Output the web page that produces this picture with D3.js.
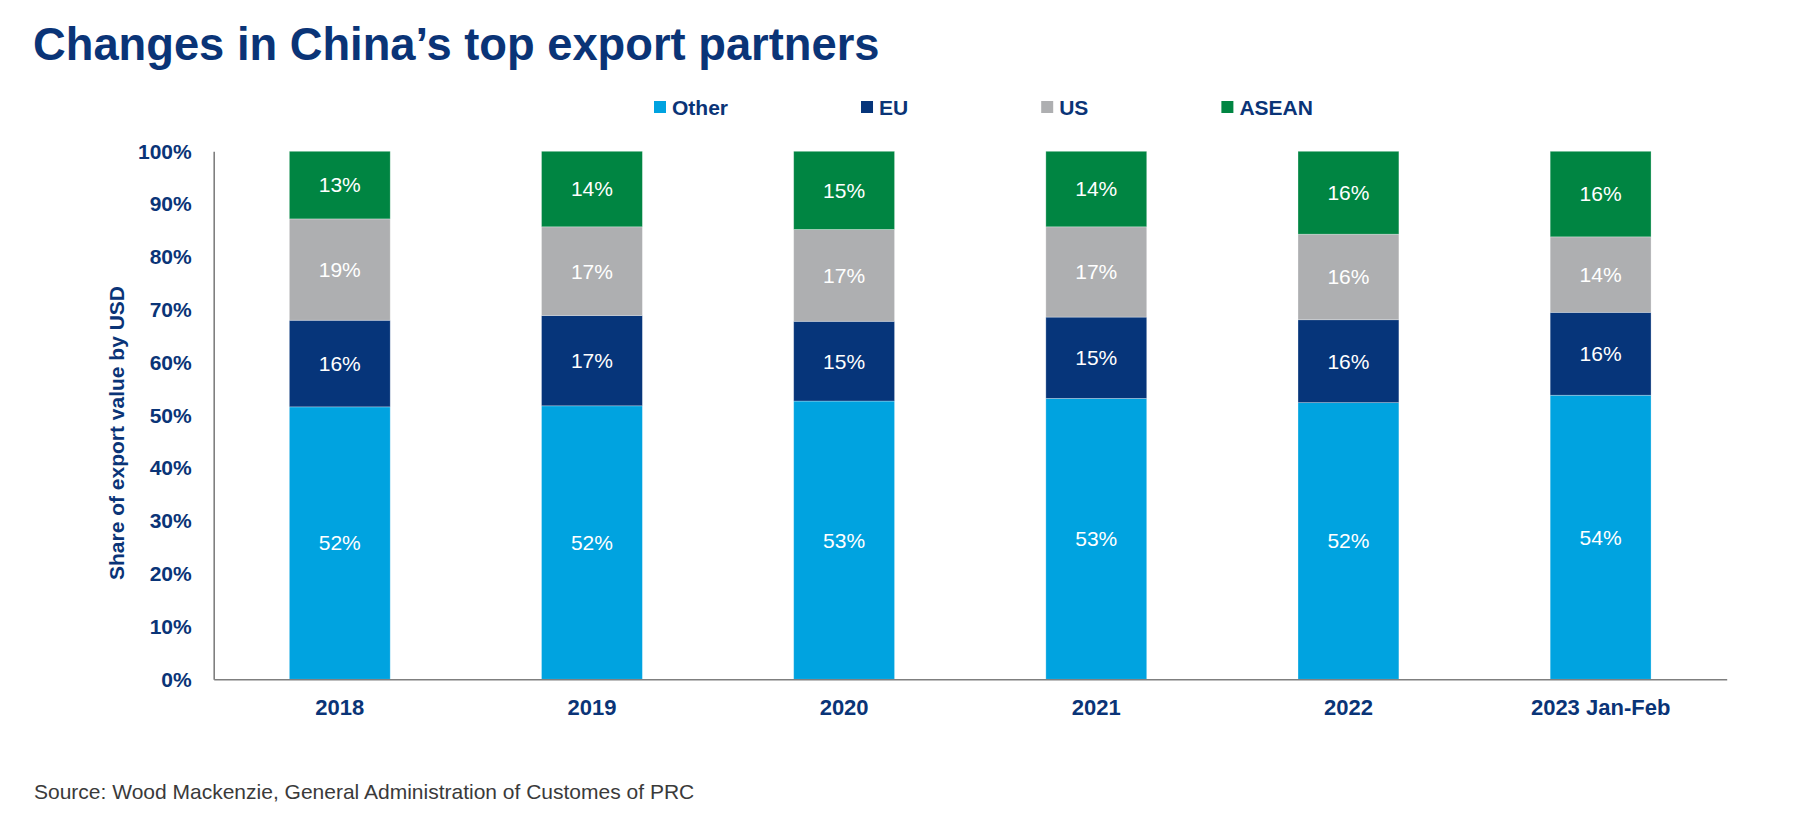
<!DOCTYPE html>
<html>
<head>
<meta charset="utf-8">
<script src="https://cdn.jsdelivr.net/npm/d3@7"></script>
<style>
  body { margin: 0; background: #fff; }
  text { font-family: "Liberation Sans", Arial, sans-serif; }
</style>
</head>
<body>
<div id="chart"></div>
<script>
// values (share of export value, %)
const years = ["2018", "2019", "2020", "2021", "2022", "2023 Jan-Feb"];
const other = [51.6, 51.8, 52.7, 53.2, 52.4, 53.8];
const eu    = [16.4, 17.1, 15.1, 15.4, 15.7, 15.7];
const us    = [19.2, 16.8, 17.4, 17.1, 16.2, 14.3];
const asean = [12.8, 14.3, 14.8, 14.3, 15.7, 16.2];

const seriesNames = ["Other", "EU", "US", "ASEAN"];
const yTicks = [0, 10, 20, 30, 40, 50, 60, 70, 80, 90, 100];

const colors = {Other: "#00a3e0", EU: "#06357a", US: "#aeafb1", ASEAN: "#008542"};
const navy = "#0a3477";

const width = 1800, height = 825;
const plotLeft = 213.7, plotRight = 1726.7, plotTop = 151.3, plotBottom = 679.3;

const rows = years.map((yr, i) => ({
    year: yr, Other: other[i], EU: eu[i], US: us[i], ASEAN: asean[i]
}));

const svg = d3.select("#chart").append("svg")
    .attr("width", width)
    .attr("height", height);

const x = d3.scaleBand()
    .domain(years)
    .range([plotLeft, plotRight])
    .paddingInner(0.6)
    .paddingOuter(0.3);

const y = d3.scaleLinear()
    .domain([0, 100])
    .range([plotBottom, plotTop]);

const stacked = d3.stack().keys(seriesNames)(rows);

// title
svg.append("text")
    .attr("x", 33)
    .attr("y", 60)
    .attr("fill", navy)
    .attr("font-size", 45.3)
    .attr("font-weight", "bold")
    .text("Changes in China\u2019s top export partners");

// bars
const layer = svg.selectAll("g.layer")
    .data(stacked)
    .enter()
    .append("g")
    .attr("class", "layer")
    .attr("fill", d => colors[d.key]);

layer.selectAll("rect")
    .data(d => d)
    .enter()
    .append("rect")
    .attr("x", d => x(d.data.year))
    .attr("y", d => y(d[1]))
    .attr("width", x.bandwidth())
    .attr("height", d => y(d[0]) - y(d[1]))
    .attr("stroke", "#ffffff")
    .attr("stroke-opacity", 0.35)
    .attr("stroke-width", 0.8);

layer.selectAll("text")
    .data(d => d)
    .enter()
    .append("text")
    .attr("x", d => x(d.data.year) + x.bandwidth() / 2)
    .attr("y", d => (y(d[0]) + y(d[1])) / 2)
    .attr("dy", "0.35em")
    .attr("text-anchor", "middle")
    .attr("fill", "#ffffff")
    .attr("font-size", 21)
    .text(d => Math.round(d[1] - d[0]) + "%");

// y axis
const yAxis = svg.append("g")
    .attr("transform", `translate(${plotLeft},0)`)
    .call(d3.axisLeft(y)
        .tickValues(yTicks)
        .tickSize(0)
        .tickPadding(22)
        .tickFormat(d => d + "%"));

yAxis.select(".domain")
    .attr("stroke", "#7f7f7f")
    .attr("stroke-width", 1.6);

yAxis.selectAll("text")
    .attr("fill", navy)
    .attr("font-size", 21)
    .attr("font-weight", "bold")
    .attr("font-family", "'Liberation Sans', Arial, sans-serif");

// x axis
const xAxis = svg.append("g")
    .attr("transform", `translate(0,${plotBottom})`)
    .call(d3.axisBottom(x)
        .tickSize(0)
        .tickPadding(20));

xAxis.select(".domain")
    .attr("stroke", "#7f7f7f")
    .attr("stroke-width", 1.6);

xAxis.selectAll("text")
    .attr("fill", navy)
    .attr("font-size", 22)
    .attr("font-weight", "bold")
    .attr("font-family", "'Liberation Sans', Arial, sans-serif");

// y axis title
svg.append("text")
    .attr("transform", "translate(124,433) rotate(-90)")
    .attr("text-anchor", "middle")
    .attr("fill", navy)
    .attr("font-size", 21)
    .attr("font-weight", "bold")
    .text("Share of export value by USD");

// legend
const legend = svg.append("g");
let lx = 654;
seriesNames.forEach(name => {
    legend.append("rect")
        .attr("x", lx)
        .attr("y", 101)
        .attr("width", 12)
        .attr("height", 12)
        .attr("fill", colors[name]);
    const t = legend.append("text")
        .attr("x", lx + 18)
        .attr("y", 107)
        .attr("dy", "0.36em")
        .attr("fill", navy)
        .attr("font-size", 21)
        .attr("font-weight", "bold")
        .text(name);
    lx = lx + 18 + t.node().getComputedTextLength() + 133;
});

// source
svg.append("text")
    .attr("x", 34)
    .attr("y", 799)
    .attr("fill", "#3a3a3a")
    .attr("font-size", 21)
    .text("Source: Wood Mackenzie, General Administration of Customes of PRC");
</script>
</body>
</html>
